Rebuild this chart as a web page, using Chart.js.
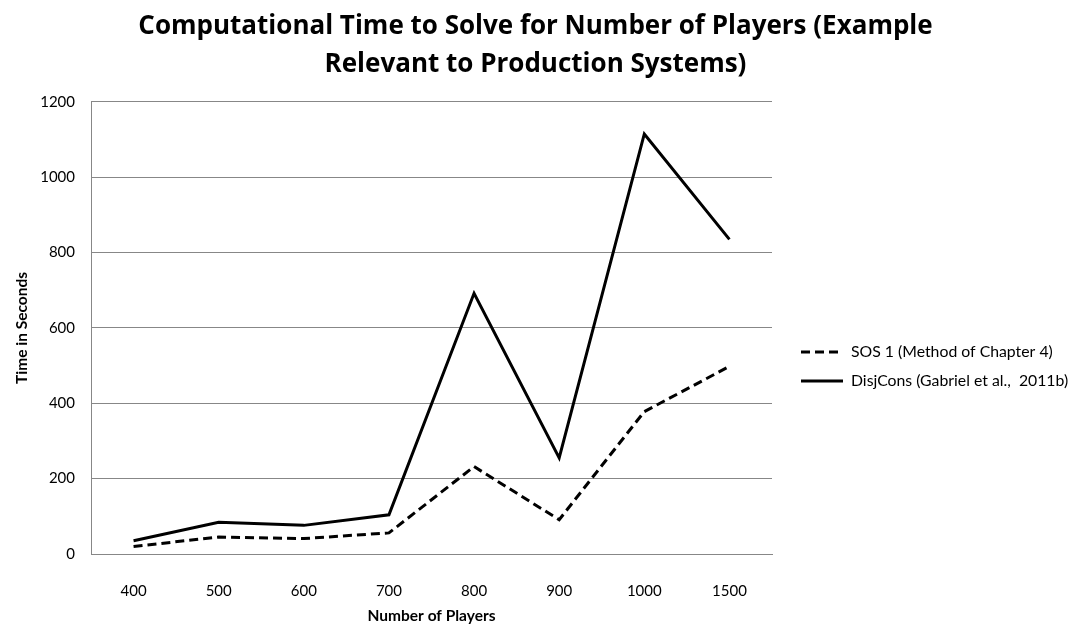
<!DOCTYPE html>
<html>
<head>
<meta charset="utf-8">
<script src="https://cdn.jsdelivr.net/npm/chart.js@4.4.1/dist/chart.umd.min.js"></script>
<style>
  html, body { margin: 0; padding: 0; background: #fff; }
  #wrap { width: 1071px; height: 627px; }
</style>
</head>
<body>
<div id="wrap"><canvas id="myChart" width="1071" height="627"></canvas></div>
<script>
// data
var players = ['400', '500', '600', '700', '800', '900', '1000', '1500'];
var sosTime = [20, 45, 41, 56, 232, 91, 378, 498];
var disjTime = [35, 84, 76, 104, 692, 255, 1115, 835];
var yTicks = [0, 200, 400, 600, 800, 1000, 1200];

var FONT = 'Lato, "Open Sans", sans-serif';
var GRID = '#878787';

// legend on the right side, drawn like the Excel one (line + text)
var sideLegend = {
    id: 'sideLegend',
    afterDraw: function (chart) {
        var c = chart.ctx;
        var x0 = 801, y0 = 352, step = 29;
        chart.data.datasets.forEach(function (ds, i) {
            var y = y0 + i * step;
            c.save();
            c.strokeStyle = ds.borderColor;
            c.lineWidth = ds.borderWidth;
            c.setLineDash(ds.borderDash || []);
            c.beginPath();
            c.moveTo(x0, y);
            c.lineTo(x0 + 42, y);
            c.stroke();
            c.setLineDash([]);
            c.fillStyle = '#000';
            c.font = '15.8px ' + FONT;
            c.textBaseline = 'middle';
            c.fillText(ds.label, x0 + 50, y);
            c.restore();
        });
    }
};

var ctx = document.getElementById('myChart').getContext('2d');

var myChart = new Chart(ctx, {
    type: 'line',
    data: {
        labels: players,
        datasets: [{
            label: 'SOS 1 (Method of Chapter 4)',
            data: sosTime,
            borderColor: '#000',
            borderWidth: 3,
            borderDash: [9, 5],
            pointRadius: 0,
            tension: 0,
            fill: false
        }, {
            label: 'DisjCons (Gabriel et al.,  2011b)',
            data: disjTime,
            borderColor: '#000',
            borderWidth: 3,
            pointRadius: 0,
            tension: 0,
            fill: false
        }]
    },
    plugins: [sideLegend],
    options: {
        responsive: false,
        animation: false,
        layout: { padding: 0 },
        plugins: {
            legend: { display: false },
            tooltip: { enabled: false },
            title: {
                display: true,
                text: ['Computational Time to Solve for Number of Players (Example', 'Relevant to Production Systems)'],
                color: '#000',
                font: { family: '"Open Sans", Lato, sans-serif', size: 26, weight: 'bold', lineHeight: 1.46 },
                padding: { top: 8, bottom: 18 }
            }
        },
        scales: {
            x: {
                offset: true,
                grid: { display: false },
                border: { display: true, color: GRID, width: 1 },
                ticks: { color: '#000', font: { family: FONT, size: 15 }, padding: 20, maxRotation: 0 },
                title: {
                    display: true,
                    text: 'Number of Players',
                    color: '#000',
                    font: { family: FONT, size: 15.5, weight: 'bold' },
                    padding: { top: 0, bottom: 2 }
                },
                afterFit: function (s) { s.height = 73; }
            },
            y: {
                min: 0,
                max: 1200,
                afterBuildTicks: function (s) { s.ticks = yTicks.map(function (v) { return { value: v }; }); },
                grid: { color: GRID, lineWidth: 1, drawTicks: false },
                border: { display: true, color: GRID, width: 1 },
                ticks: {
                    color: '#000',
                    font: { family: FONT, size: 15 },
                    padding: 16,
                    callback: function (v) { return String(v); }
                },
                title: {
                    display: true,
                    text: 'Time in Seconds',
                    color: '#000',
                    font: { family: FONT, size: 15.5, weight: 'bold' },
                    padding: { top: 13, bottom: 0 }
                },
                afterFit: function (s) { s.width = 91; }
            },
            // empty axis that keeps the legend column free
            side: {
                position: 'right',
                display: true,
                grid: { display: false },
                border: { display: false },
                ticks: { display: false },
                afterFit: function (s) { s.width = 299; }
            }
        }
    }
});
</script>
</body>
</html>
